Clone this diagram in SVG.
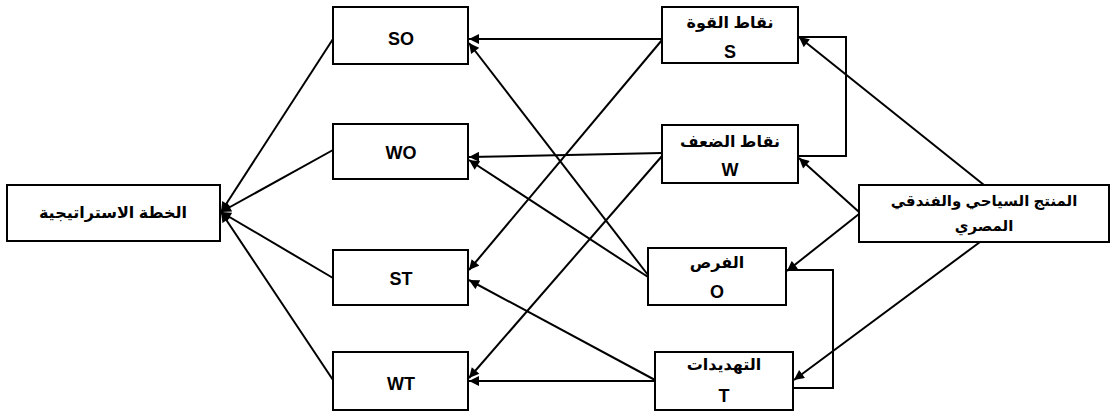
<svg xmlns="http://www.w3.org/2000/svg" width="1112" height="412" viewBox="0 0 1112 412">
<style>
.box{fill:#fff;stroke:#000;stroke-width:2}
.t{font-family:"Liberation Sans","DejaVu Sans",sans-serif;font-weight:bold;font-size:16px;fill:#000;text-anchor:middle}
.m{font-size:15px}
.lt{font-family:"Liberation Sans","DejaVu Sans",sans-serif;font-weight:bold;font-size:18px;fill:#000;text-anchor:middle}
.c{stroke:#000;stroke-width:2;fill:none}
.a{marker-end:url(#ah)}
</style>
<defs>
<marker id="ah" viewBox="0 0 10 10" refX="10" refY="5" markerWidth="5.5" markerHeight="5" orient="auto" markerUnits="strokeWidth">
<path d="M0,0 L10,5 L0,10 z" fill="#000"/>
</marker>
</defs>
<g id="connectors">
<line class="c a" x1="333" y1="39" x2="221" y2="212"/>
<line class="c a" x1="333" y1="150" x2="221" y2="212"/>
<line class="c a" x1="333" y1="278" x2="221" y2="212"/>
<line class="c a" x1="333" y1="380" x2="221" y2="212"/>
<line class="c a" x1="662" y1="39" x2="469" y2="39"/>
<line class="c a" x1="662" y1="40" x2="469" y2="270"/>
<line class="c a" x1="662" y1="153" x2="469" y2="157"/>
<line class="c a" x1="662" y1="156" x2="469" y2="378"/>
<line class="c a" x1="648" y1="275" x2="469" y2="43"/>
<line class="c a" x1="648" y1="277" x2="469" y2="160"/>
<line class="c a" x1="655" y1="380" x2="469" y2="280"/>
<line class="c a" x1="655" y1="381" x2="469" y2="381"/>
<line class="c a" x1="984" y1="185" x2="799" y2="37"/>
<line class="c a" x1="859" y1="212" x2="799" y2="158"/>
<line class="c a" x1="859" y1="214" x2="787" y2="271"/>
<line class="c a" x1="980" y1="242" x2="794" y2="380"/>
<polyline class="c" points="798,156 846,156 846,37 798,37"/>
<polyline class="c" points="786,270 833,270 833,388 790,388"/>
</g>
<g id="plan">
<rect class="box" x="7" y="185" width="213" height="56"/>
<text class="t" x="113" y="218">الخطة الاستراتيجية</text>
</g>
<g id="SO">
<rect class="box" x="333" y="7" width="135" height="57"/>
<text class="lt" x="401" y="45">SO</text>
</g>
<g id="WO">
<rect class="box" x="333" y="124" width="135" height="55"/>
<text class="lt" x="401" y="159">WO</text>
</g>
<g id="ST">
<rect class="box" x="333" y="250" width="135" height="55"/>
<text class="lt" x="401" y="285">ST</text>
</g>
<g id="WT">
<rect class="box" x="333" y="352" width="135" height="58"/>
<text class="lt" x="401" y="390">WT</text>
</g>
<g id="S">
<rect class="box" x="662" y="7" width="136" height="56"/>
<text class="t" x="730" y="28">نقاط القوة</text>
<text class="lt" x="730" y="58">S</text>
</g>
<g id="W">
<rect class="box" x="662" y="125" width="136" height="58"/>
<text class="t" x="730" y="147">نقاط الضعف</text>
<text class="lt" x="730" y="176">W</text>
</g>
<g id="O">
<rect class="box" x="648" y="248" width="138" height="57"/>
<text class="t" x="717" y="268">الفرص</text>
<text class="lt" x="717" y="298">O</text>
</g>
<g id="T">
<rect class="box" x="655" y="352" width="138" height="58"/>
<text class="t" x="724" y="370">التهديدات</text>
<text class="lt" x="724" y="402">T</text>
</g>
<g id="product">
<rect class="box" x="859" y="185" width="250" height="57"/>
<text class="t m" x="984" y="206">المنتج السياحي والفندقي</text>
<text class="t m" x="984" y="231">المصري</text>
</g>
</svg>
